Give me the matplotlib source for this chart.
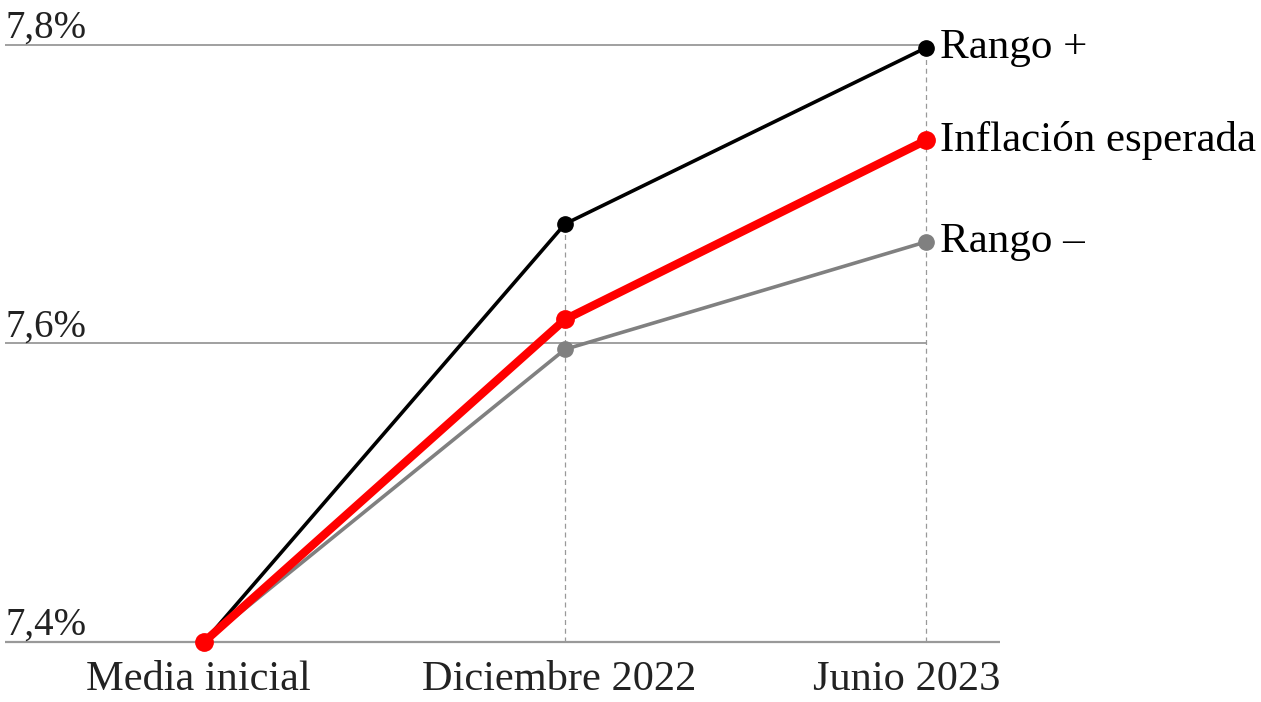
import matplotlib
matplotlib.use('Agg')
import matplotlib.pyplot as plt

# datos
periodos = ['Media inicial', 'Diciembre 2022', 'Junio 2023']
rango_mas = [7.40, 7.680, 7.798]
inflacion = [7.40, 7.616, 7.736]
rango_menos = [7.40, 7.596, 7.668]
y_ticks = [7.4, 7.6, 7.8]
y_labels = ['7,4%', '7,6%', '7,8%']

plt.rcParams['font.family'] = ['Liberation Serif', 'DejaVu Serif']

fig = plt.figure(figsize=(12.61, 7.02), dpi=100)
ax = fig.add_axes([0, 0, 1, 1])
ax.set_xlim(-0.565, 2.928)
ax.set_ylim(7.3598, 7.830)
ax.axis('off')

x = list(range(len(periodos)))
gris = '#999999'
x_fin = 2.205  # fin de la linea base

# lineas horizontales
for t in y_ticks[1:]:
    ax.hlines(t, -0.551, x[-1], color=gris, lw=1.3, zorder=1)
ax.hlines(y_ticks[0], -0.551, x_fin, color=gris, lw=1.6, zorder=1)

# lineas verticales discontinuas
for i in x[1:]:
    ax.vlines(i, y_ticks[0], rango_mas[i], color=gris, lw=0.9, ls=(0, (4, 3)), zorder=1)

# series
ax.plot(x, rango_menos, color='#808080', lw=2.6, marker='o', ms=11, zorder=3)
ax.plot(x, rango_mas, color='black', lw=2.6, marker='o', ms=11, zorder=3)
ax.plot(x, inflacion, color='#ff0000', lw=6, marker='o', ms=12.5, zorder=4)

# etiquetas de series
fs = 31
ax.text(2.039, rango_mas[-1], 'Rango +', fontsize=fs, va='center', ha='left')
ax.text(2.039, inflacion[-1], 'Inflación esperada', fontsize=fs, va='center', ha='left')
ax.text(2.039, rango_menos[-1], 'Rango –', fontsize=fs, va='center', ha='left')

# etiquetas eje y
for t, lab in zip(y_ticks, y_labels):
    ax.text(-0.551, t + 0.0047, lab, fontsize=28, va='baseline', ha='left', color='#222222')

# etiquetas eje x (la ultima se ajusta al final de la linea base)
for i, lab in zip(x, periodos):
    if i == x[-1]:
        ax.text(x_fin, 7.3746, lab, fontsize=30.5, va='center', ha='right', color='#222222')
    else:
        ax.text(i - 0.015, 7.3746, lab, fontsize=30.5, va='center', ha='center', color='#222222')

fig.savefig('out.png', dpi=100)
